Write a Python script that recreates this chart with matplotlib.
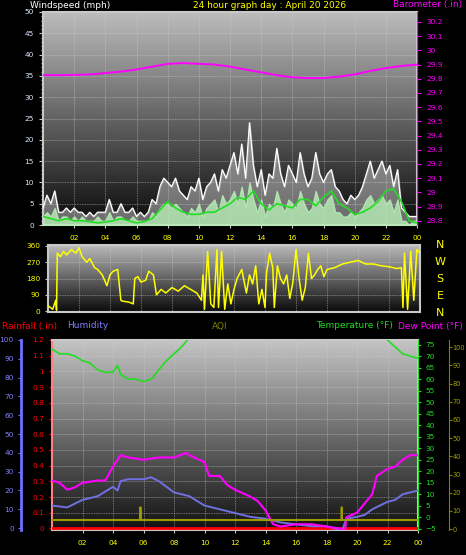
import numpy as np
import matplotlib
matplotlib.use("Agg")
import matplotlib.pyplot as plt
from matplotlib.colors import LinearSegmentedColormap

# ---------------- data ----------------
hours_q = np.arange(0, 24.01, 0.25)
gust = [4,7,5,8, 3,3,4,3, 4,3,3,2, 3,2,3,3, 3,6,3,3, 5,3,3,4, 2,3,2,3, 6,5,9,11,
        10,9,11,8, 7,6,9,8, 11,6,9,10, 12,8,13,11, 14,17,12,19, 11,24,14,9, 13,7,12,11,
        18,12,9,14, 12,10,17,12, 9,11,17,12, 10,12,13,9, 8,6,5,7, 6,7,9,12,
        15,11,13,15, 12,14,9,13, 4,3,2,2, 2]
speed = [2,3,2,4, 1,2,2,1, 2,1,2,1, 1,1,2,1, 1,3,1,2, 2,1,1,2, 1,1,1,1, 3,2,4,5,
         5,4,5,4, 3,2,4,3, 5,2,4,5, 6,3,7,5, 6,8,5,9, 4,10,6,3, 6,2,5,4,
         8,5,3,6, 5,4,8,5, 3,4,8,5, 4,6,7,3, 3,2,2,3, 2,3,4,6,
         7,5,6,7, 5,6,3,6, 1,1,0,1, 1]
hours_h = np.arange(0, 24.01, 0.5)
avg_wind = [2,1.5,1,1.5,1,1,0.8,0.5,0.7,1,1.5,1,0.5,0.8,1.5,3.5,5.5,4,
            3,2.5,2.5,3,3,4,5,6.5,6,8,5,3.5,5,4.5,4,6,6,4.5,6.5,8,
            5,4,2.5,3,4,5.5,8,8.5,5.5,1,0.5]
baro_hours = [0,1,2,3,4,5,6,7,8,9,10,11,12,13,14,15,16,17,18,19,20,21,22,23,24]
baro = [29.825,29.825,29.827,29.83,29.84,29.85,29.865,29.885,29.905,29.91,29.905,29.9,
        29.885,29.865,29.845,29.825,29.81,29.805,29.805,29.815,29.83,29.855,29.875,29.89,29.9]

dir_hours = [0,0.3,0.5,0.55,0.6,0.8,1.0,1.2,1.5,1.8,2.0,2.2,2.5,2.7,3.0,3.2,3.5,3.8,4.0,4.2,4.5,
             4.7,4.8,5.2,5.5,5.6,5.8,6.0,6.3,6.5,6.8,7.0,7.3,7.6,8.0,8.4,8.8,9.2,9.6,9.9,
             10.0,10.1,10.3,10.5,10.7,10.9,11.0,11.2,11.4,11.6,11.8,12.0,12.2,12.5,12.8,13.0,
             13.2,13.4,13.6,13.8,14.0,14.1,14.3,14.5,14.6,14.8,15.0,15.2,15.4,15.6,15.8,16.0,
             16.2,16.4,16.6,16.8,17.0,17.2,17.4,17.6,17.8,18.0,18.5,19.0,19.5,20.0,20.5,
             21.0,21.5,22.0,22.5,22.8,22.9,23.0,23.2,23.4,23.6,23.8,24.0]
direction = [30,10,60,5,320,300,330,310,340,320,350,300,270,290,240,230,200,140,200,220,230,
             60,55,50,40,180,190,160,170,220,200,90,120,100,130,110,140,120,100,60,
             200,10,330,40,20,340,20,330,10,150,40,120,180,230,100,200,
             150,250,40,120,20,210,320,240,20,250,180,150,200,70,160,340,
             180,60,130,320,180,200,230,250,190,230,240,260,270,280,260,
             260,250,245,235,240,20,320,10,330,60,340,320]

temp_hours = [0,0.5,1,1.5,2,2.5,3,3.5,4,4.3,4.5,5,5.5,6,6.5,7,7.5,8,8.5,9,
              21,21.5,22,22.5,23,23.5,24]
temperature = [73,71,71,70,68,67,64,63,63,66,62,60,60,59,60,64,68,71,74,78,
               85,80,77,74,71,70,69]
hum_hours = [0,1,2,3,4,4.3,4.5,5,6,6.5,7,8,9,10,11,12,13,14,15,16,17,18,18.5,19,19.3,20,20.5,21,22,22.5,23,24]
humidity = [12,11,15,17,22,20,25,26,26,27,25,19,17,12,10,8,6,5,3,2,1,1,0,-2,5,6,7,10,14,15,18,20]
dew_hours = [0,0.5,1,1.5,2,3,3.5,4,4.5,5,6,7,8,8.8,9,10,10.3,11,11.5,12,13,13.5,14,14.5,15,16,17,18,19,19.2,19.3,20,20.5,21,21.3,22,22.5,23,23.5,24]
dewpoint = [16,15,12,13,15,16,16,22,27,26,25,26,26,28,27,24,18,18,14,12,9,7,3,-3,-4,-3,-3,-4,-5,-7,0,2,6,10,18,21,22,25,27,27]
rain_hours = [0,24]
rainfall = [0,0]
aqi_hours = [0,5.79,5.8,5.81,18.99,19.0,19.01,24]
aqi = [5,5,12,5,5,12,5,5]

hour_ticks = [2,4,6,8,10,12,14,16,18,20,22,24]
hour_labels = ["02","04","06","08","10","12","14","16","18","20","22","00"]

# ---------------- figure ----------------
W, H = 466, 555
fig = plt.figure(figsize=(W/100, H/100), dpi=100, facecolor="black")
plt.rcParams["font.family"] = ["DejaVu Sans"]
FS = 5.3
YEL = "#ffff00"

def bg(ax, top="#bdbdbd", bot="#0a0a0a"):
    grad = np.linspace(0, 1, 256).reshape(-1, 1)
    cm = LinearSegmentedColormap.from_list("g", [bot, top])
    ax.imshow(grad, aspect="auto", cmap=cm, origin="lower",
              extent=[0, 1, 0, 1], transform=ax.transAxes, zorder=0)
    ax.grid(True, color="#d0d0d0", linestyle=(0, (1, 1)), linewidth=0.6, alpha=0.6, zorder=1)
    for s in ax.spines.values():
        s.set_color("#c8c8c8"); s.set_linewidth(1.5)

def frac(x0, y0, x1, y1):
    return [x0/W, 1-y1/H, (x1-x0)/W, (y1-y0)/H]

# Panel 1: wind
ax1 = fig.add_axes(frac(43, 12, 417, 225))
bg(ax1)
ax1.set_xlim(0, 24); ax1.set_ylim(0, 50)
ax1.fill_between(hours_q, 0, gust, color="#e0e0e0", alpha=0.45, zorder=2)
ax1.plot(hours_q, gust, color="white", lw=0.9, zorder=3)
ax1.fill_between(hours_q, 0, speed, color="#b8f0b8", alpha=0.8, zorder=4)
ax1.plot(hours_h, avg_wind, color="#22dd22", lw=1.2, zorder=5)
ax1.set_yticks(range(0, 51, 5))
ax1.set_xticks(hour_ticks)
ax1.set_xticklabels(hour_labels)
ax1.tick_params(axis="y", colors="#c8c8c8", labelcolor="#d8e8ff", labelsize=FS, length=3)
ax1.tick_params(axis="x", colors="#c8c8c8", labelcolor=YEL, labelsize=FS, length=2, pad=5)
ax1.yaxis.set_minor_locator(matplotlib.ticker.MultipleLocator(1))
ax1.tick_params(axis="y", which="minor", colors="#c8c8c8", length=1.5)
ax1b = ax1.twinx()
ax1b.set_ylim(28.77, 30.27)
ax1b.plot(baro_hours, baro, color="#ff00ff", lw=1.4, zorder=6)
bt = np.round(np.arange(28.8, 30.21, 0.1), 1)
ax1b.set_yticks(bt)
ax1b.set_yticklabels([f"{v:g}" for v in bt])
ax1b.tick_params(axis="y", colors="#ff00ff", labelcolor="#ff00ff", labelsize=FS, length=3)
for s in ax1b.spines.values():
    s.set_visible(False)
ax1b.spines["right"].set_visible(True); ax1b.spines["right"].set_color("#ff00ff")

fig.text(30/W, 1-5/H, "Windspeed (mph)", color="white", fontsize=6.5, va="center")
fig.text(270/W, 1-5/H, "24 hour graph day : April 20 2026", color=YEL, fontsize=6.5, va="center", ha="center")
fig.text(462/W, 1-5/H, "Barometer (.in)", color="#ff00ff", fontsize=6.5, va="center", ha="right")

# Panel 2: direction
ax2 = fig.add_axes(frac(48, 245, 420, 312))
bg(ax2)
ax2.set_xlim(0, 24); ax2.set_ylim(-5, 365)
ax2.plot(dir_hours, direction, color=YEL, lw=1.1, zorder=3)
ax2.set_yticks([0, 90, 180, 270, 360])
ax2.set_xticks(hour_ticks); ax2.set_xticklabels([])
ax2.tick_params(axis="y", colors="#c8c8c8", labelcolor=YEL, labelsize=FS, length=2)
ax2.tick_params(axis="x", length=0)
for i, c in enumerate("NWSEN"):
    fig.text(440/W, 1-(245+i*17)/H, c, color=YEL, fontsize=8, ha="center", va="center")

# Panel 3
ax3 = fig.add_axes(frac(52, 340, 418, 530))
bg(ax3, top="#c4c4c4", bot="#111111")
ax3.set_xlim(0, 24); ax3.set_ylim(-0.01, 1.2)
ax3.plot(rain_hours, rainfall, color="#ff0000", lw=2, zorder=6)
rt = np.round(np.arange(0, 1.21, 0.1), 1)
ax3.set_yticks(rt)
ax3.set_yticklabels([f"{v:g}" for v in rt])
ax3.tick_params(axis="y", colors="#ff0000", labelcolor="#ff0000", labelsize=FS, length=2)
ax3.spines["left"].set_color("#ff8080")
ax3.set_xticks(hour_ticks); ax3.set_xticklabels(hour_labels)
ax3.tick_params(axis="x", colors="#c8c8c8", labelcolor=YEL, labelsize=FS, length=2, pad=5)

axh = ax3.twinx()
axh.set_ylim(-1, 100)
axh.yaxis.set_ticks_position("left"); axh.yaxis.set_label_position("left")
axh.spines["left"].set_position(("outward", 22))
axh.spines["left"].set_visible(True)
axh.spines["left"].set_color("#7070ff"); axh.spines["left"].set_linewidth(2)
for k in ("right", "top", "bottom"):
    axh.spines[k].set_visible(False)
axh.plot(hum_hours, humidity, color="#7070e0", lw=1.4, zorder=4)
axh.set_yticks(range(0, 101, 10))
axh.tick_params(axis="y", colors="#7070ff", labelcolor="#8080ff", labelsize=FS, length=2)

axt = ax3.twinx()
axt.set_ylim(-5.5, 77)
axt.plot(temp_hours, temperature, color="#22dd22", lw=1.2, zorder=5)
axt.plot(dew_hours, dewpoint, color="#ff00ff", lw=1.5, zorder=5)
axt.set_yticks(range(-5, 76, 5))
axt.tick_params(axis="y", colors="#22dd22", labelcolor="#22dd22", labelsize=FS, length=2)
for k in ("left", "top", "bottom"):
    axt.spines[k].set_visible(False)
axt.spines["right"].set_color("#22dd22")

axa = ax3.twinx()
axa.set_ylim(-0.5, 104)
axa.spines["right"].set_position(("outward", 22))
for k in ("left", "top", "bottom"):
    axa.spines[k].set_visible(False)
axa.spines["right"].set_color("#808000")
axa.plot(aqi_hours, aqi, color="#9a9a00", lw=1.5, zorder=5)
axa.set_yticks(range(0, 101, 10))
axa.tick_params(axis="y", colors="#808000", labelcolor="#a0a000", labelsize=4.8, length=2, pad=1)

fig.text(2/W, 1-326/H, "Rainfall (.in)", color="#ff0000", fontsize=6.5, va="center")
fig.text(67/W, 1-326/H, "Humidity", color="#8080ff", fontsize=6.5, va="center")
fig.text(220/W, 1-326/H, "AQI", color="#808000", fontsize=6.5, va="center", ha="center")
fig.text(393/W, 1-326/H, "Temperature (°F)", color="#22dd22", fontsize=6.5, va="center", ha="right")
fig.text(463/W, 1-326/H, "Dew Point (°F)", color="#ff00ff", fontsize=6.5, va="center", ha="right")

fig.savefig("out.png", dpi=100, facecolor="black")
